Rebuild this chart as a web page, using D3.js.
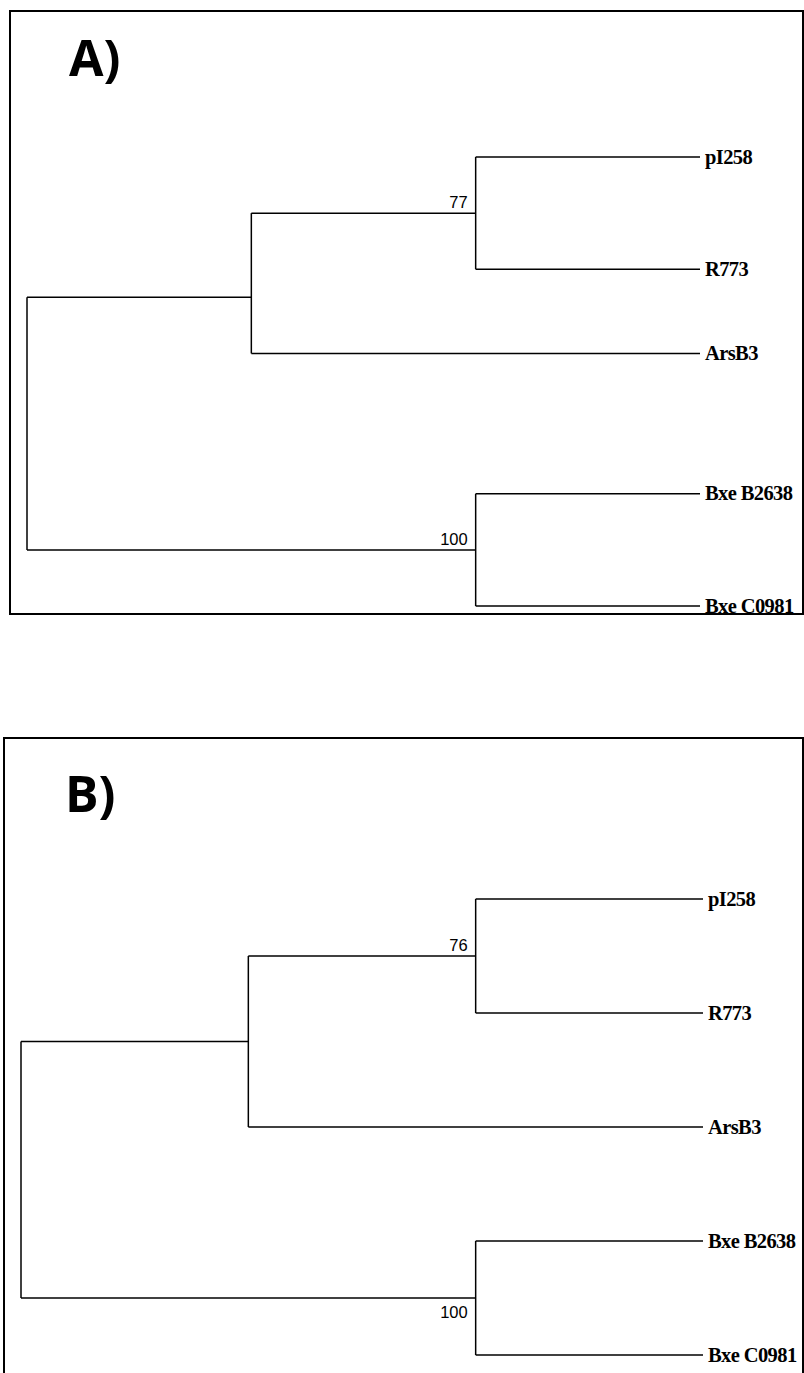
<!DOCTYPE html>
<html>
<head>
  <meta charset="utf-8">
  <script src="https://d3js.org/d3.v7.min.js"></script>
  <style>
    body { margin: 0; background: #fff; }
    svg { display: block; }
    .branch { fill: none; stroke: #000; stroke-width: 1.5; }
    .taxon { font-family: "Liberation Serif", "Times New Roman", serif; font-weight: bold; font-size: 20.5px; letter-spacing: -0.6px; }
    .support { font-family: "Liberation Sans", Arial, sans-serif; font-size: 16.5px; }
    .panel-label { font-family: "Open Sans", sans-serif; font-weight: bold; font-size: 50px; }
  </style>
</head>
<body>
  <svg id="chart" width="804" height="1373" viewBox="0 0 804 1373"></svg>
  <script>
    // tree topology (same for both panels)
    var nodeIds   = ["root", "n1", "nSub", "nBxe", "pI258", "R773", "ArsB3", "Bxe B2638", "Bxe C0981"];
    var parentIds = [null, "root", "n1", "root", "nSub", "nSub", "n1", "nBxe", "nBxe"];

    // vertical row of each node, in leaf units
    var rowsA = [null, 1.25, 0.5, 3.5, 0, 1, 1.75, 3, 4];
    var rowsB = [null, 1.25, 0.5, 3.5, 0, 1, 2, 3, 4];

    // bootstrap values
    var supportA = { nSub: 77, nBxe: 100 };
    var supportB = { nSub: 76, nBxe: 100 };
    var supportSideB = { nSub: "above", nBxe: "below" };

    var panels = [
      { label: "A)", rows: rowsA, support: supportA, side: {},
        box: [10, 11, 793, 603], labelPos: [69, 76],
        xRange: [27, 700], yRange: [157, 606] },
      { label: "B)", rows: rowsB, support: supportB, side: supportSideB,
        box: [4, 738, 799, 700], labelPos: [65, 812],
        xRange: [21, 703], yRange: [899, 1355] }
    ];

    var svg = d3.select("#chart");

    function drawPanel(p) {
      var g = svg.append("g");

      g.append("rect")
        .attr("x", p.box[0]).attr("y", p.box[1])
        .attr("width", p.box[2]).attr("height", p.box[3])
        .attr("fill", "none").attr("stroke", "#000").attr("stroke-width", 2);

      g.append("text").attr("class", "panel-label")
        .attr("x", p.labelPos[0]).attr("y", p.labelPos[1])
        .text(p.label);

      var table = nodeIds.map(function(id, i) {
        return { id: id, parent: parentIds[i], row: p.rows[i] };
      });
      var root = d3.stratify()
        .id(function(d) { return d.id; })
        .parentId(function(d) { return d.parent; })(table);

      var x = d3.scaleLinear().domain([0, root.height]).range(p.xRange);
      var y = d3.scaleLinear().domain([0, 4]).range(p.yRange);

      root.each(function(n) { n.px = x(root.height - n.height); });

      // elbow branches
      root.descendants().forEach(function(n) {
        if (!n.children) return;
        var ys = n.children.map(function(c) { return y(c.data.row); });
        g.append("line").attr("class", "branch")
          .attr("x1", n.px).attr("x2", n.px)
          .attr("y1", d3.min(ys)).attr("y2", d3.max(ys));
        n.children.forEach(function(c) {
          g.append("line").attr("class", "branch")
            .attr("x1", n.px).attr("x2", c.px)
            .attr("y1", y(c.data.row)).attr("y2", y(c.data.row));
        });
      });

      // taxon names
      g.selectAll("text.taxon")
        .data(root.leaves())
        .enter().append("text")
        .attr("class", "taxon")
        .attr("x", function(d) { return d.px + 5; })
        .attr("y", function(d) { return y(d.data.row) + 6.5; })
        .text(function(d) { return d.id; });

      // support values
      var supported = root.descendants().filter(function(d) { return p.support[d.id] != null; });
      g.selectAll("text.support")
        .data(supported)
        .enter().append("text")
        .attr("class", "support")
        .attr("text-anchor", "end")
        .attr("x", function(d) { return d.parent.px + (d.px - d.parent.px) - 8; })
        .attr("y", function(d) {
          return p.side[d.id] === "below" ? y(d.data.row) + 20 : y(d.data.row) - 5;
        })
        .text(function(d) { return p.support[d.id]; });
    }

    panels.forEach(drawPanel);
  </script>
</body>
</html>
